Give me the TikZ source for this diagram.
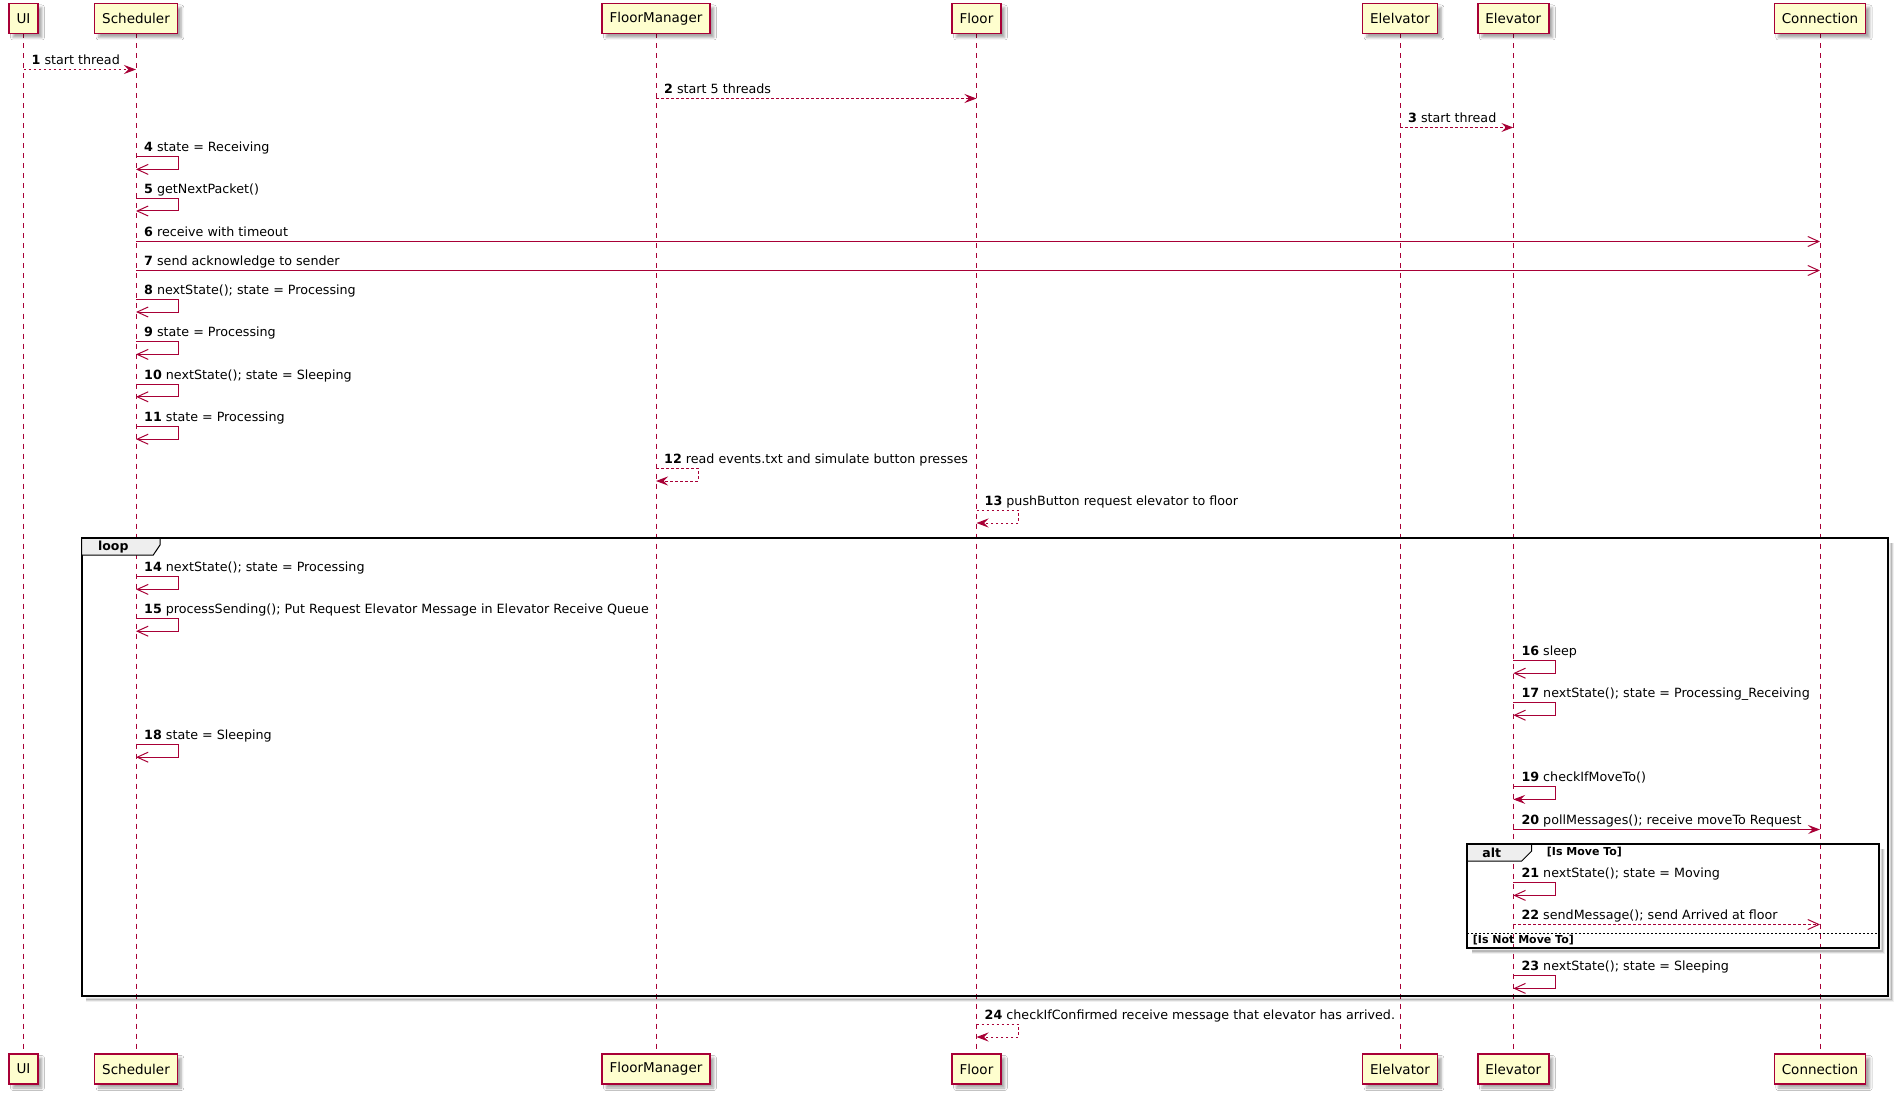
\documentclass[tikz,border=0pt]{standalone}
\usepackage{fontspec}
\setmainfont{DejaVu Sans}
\usetikzlibrary{arrows.meta,shadows.blur}
\definecolor{plum}{HTML}{A80036}
\definecolor{boxfill}{HTML}{FEFECE}
\definecolor{tabfill}{HTML}{EEEEEE}
\newcommand{\selfm}[5]{%
  \draw[#3] (#1 |- 0,#2) -- ++(42,0) -- ++(0,12.7) -- (#1 |- 0,#2+12.7);
  \node[lbl, xshift=8pt] at (#1 |- 0,#2-5) {\textbf{#4} #5};}
\newcommand{\hmsg}[6]{%
  \draw[#4] (#1 |- 0,#3) -- (#2 |- 0,#3);
  \node[lbl, xshift=8pt] at (#1 |- 0,#3-5) {\textbf{#5} #6};}
\begin{document}
\begin{tikzpicture}[x=1pt,y=-1pt,
  part/.style={draw=plum, line width=1.5pt, fill=boxfill, minimum height=30pt,
    inner xsep=7.5pt, inner ysep=0pt, font=\fontsize{13.5}{16}\selectfont,
    blur shadow={shadow xshift=4pt, shadow yshift=-4pt, shadow blur radius=2.5pt, shadow opacity=35}},
  life/.style={plum, line width=1pt, dash pattern=on 5pt off 5pt},
  lbl/.style={anchor=base west, inner sep=0pt, font=\fontsize{12.7}{15}\selectfont},
  sfill/.style={plum, line width=1pt, -{Stealth[length=12pt,width=9pt,inset=4.5pt]}},
  dfill/.style={sfill, dash pattern=on 2.5pt off 2.5pt},
  sopen/.style={plum, line width=1pt, -{Straight Barb[length=11pt,width=10pt]}},
  dopen/.style={sopen, dash pattern=on 2.5pt off 2.5pt},
  frame/.style={draw=black, line width=2pt},
  tabtxt/.style={inner sep=0pt, font=\fontsize{12.5}{15}\selectfont\bfseries},
  guard/.style={anchor=west, inner sep=0pt, font=\fontsize{11}{13}\selectfont\bfseries}
]
\useasboundingbox[fill=white] (0,0) rectangle (1899,1094);

% lifeline x positions
\coordinate (xUI) at (23.5,0);
\coordinate (xSch) at (136,0);
\coordinate (xFM) at (656,0);
\coordinate (xFl) at (976.5,0);
\coordinate (xEl) at (1400,0);
\coordinate (xEv) at (1513.3,0);
\coordinate (xCo) at (1820,0);

% lifelines
\foreach \p in {xUI,xSch,xFM,xFl,xEl,xEv,xCo}
  \draw[life] (\p |- 0,33.5) -- (\p |- 0,1054);

% participants
\foreach \p/\t/\n in {xUI/UI/UI,xSch/Scheduler/Sch,xFM/FloorManager/FM,xFl/Floor/Fl,xEl/Elelvator/El,xEv/Elevator/Ev,xCo/Connection/Co}{
  \node[part] (top\n) at (\p |- 0,18.5) {\t};
  \node[part] (bot\n) at (\p |- 0,1069) {\t};
}

% loop frame
\foreach \w/\o in {5/0.06,3/0.10,1.5/0.14}
  \draw[black, opacity=\o, line width=\w pt] (1891.5,543) -- (1891.5,999.5) -- (86,999.5);
\draw[frame] (81.7,538.3) rectangle (1888,996);
\draw[fill=tabfill, draw=black, line width=1pt] (81.7,538.3) -- (160,538.3) -- (160,545) -- (153.3,555) -- (81.7,555) -- cycle;
\node[tabtxt] (looplbl) at (113.3,546.7) {loop};

% alt frame
\foreach \w/\o in {5/0.06,3/0.10,1.5/0.14}
  \draw[black, opacity=\o, line width=\w pt] (1882.5,849) -- (1882.5,951) -- (1472,951);
\draw[frame] (1467.3,844.3) rectangle (1879,947.7);
\draw[fill=tabfill, draw=black, line width=1pt] (1467.3,844.3) -- (1531.7,844.3) -- (1531.7,851) -- (1521.7,861) -- (1467.3,861) -- cycle;
\node[tabtxt] (altlbl) at (1491.7,852.5) {alt};
\node[guard] (g1) at (1546.7,852.5) {[Is Move To]};
\draw[black, line width=1pt, dash pattern=on 2pt off 2pt] (1467.3,933.3) -- (1879,933.3);
\node[guard] (g2) at (1472.7,940.5) {[Is Not Move To]};

% messages
\hmsg{xUI}{xSch}{69.5}{dfill}{1}{start thread}
\hmsg{xFM}{xFl}{98.5}{dfill}{2}{start 5 threads}
\hmsg{xEl}{xEv}{127.5}{dfill}{3}{start thread}
\selfm{xSch}{156.7}{sopen}{4}{state = Receiving}
\selfm{xSch}{198.3}{sopen}{5}{getNextPacket()}
\hmsg{xSch}{xCo}{241.5}{sopen}{6}{receive with timeout}
\hmsg{xSch}{xCo}{270.5}{sopen}{7}{send acknowledge to sender}
\selfm{xSch}{299.3}{sopen}{8}{nextState(); state = Processing}
\selfm{xSch}{341.7}{sopen}{9}{state = Processing}
\selfm{xSch}{384.1}{sopen}{10}{nextState(); state = Sleeping}
\selfm{xSch}{426.5}{sopen}{11}{state = Processing}
\selfm{xFM}{468.3}{dfill}{12}{read events.txt and simulate button presses}
\selfm{xFl}{510.3}{dfill}{13}{pushButton request elevator to floor}
\selfm{xSch}{576.7}{sopen}{14}{nextState(); state = Processing}
\selfm{xSch}{618.5}{sopen}{15}{processSending(); Put Request Elevator Message in Elevator Receive Queue}
\selfm{xEv}{660.5}{sopen}{16}{sleep}
\selfm{xEv}{702.5}{sopen}{17}{nextState(); state = Processing\_Receiving}
\selfm{xSch}{744.5}{sopen}{18}{state = Sleeping}
\selfm{xEv}{786.7}{sfill}{19}{checkIfMoveTo()}
\hmsg{xEv}{xCo}{829.5}{sfill}{20}{pollMessages(); receive moveTo Request}
\selfm{xEv}{882.7}{sopen}{21}{nextState(); state = Moving}
\hmsg{xEv}{xCo}{924.5}{dopen}{22}{sendMessage(); send Arrived at floor}
\selfm{xEv}{975.7}{sopen}{23}{nextState(); state = Sleeping}
\selfm{xFl}{1024.3}{dfill}{24}{checkIfConfirmed receive message that elevator has arrived.}
\end{tikzpicture}
\end{document}
